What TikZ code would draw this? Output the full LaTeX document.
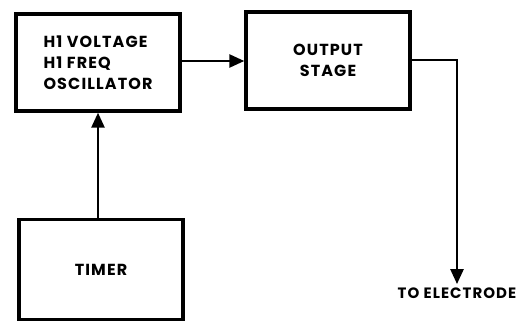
\documentclass[tikz,border=0pt]{standalone}
\usepackage{fontspec}
\setmainfont{Poppins}[LetterSpace=7]
\usetikzlibrary{arrows.meta,positioning}
\tikzset{
    block/.style={
        draw,
        line width=3.4pt,
        minimum width=164pt,
        minimum height=97pt,
        inner sep=0pt,
        font=\fontsize{16}{21}\selectfont\bfseries
    },
    signal/.style={
        line width=2.6pt,
        -{Triangle[length=15pt,width=13pt]}
    }
}

\begin{document}
\begin{tikzpicture}[x=1pt,y=1pt]
                \useasboundingbox (0,0) rectangle (532,322);
                \node[block, align=left] (osc) at (98,259.5)
                    {H1 VOLTAGE\\H1 FREQ\\OSCILLATOR};
                \node[block, align=center] (out) at (328,261.5)
                    {OUTPUT\\STAGE};
                \node[block, minimum height=100pt] (timer) at (101,52.5) {TIMER};
                \node[font=\fontsize{15}{18}\selectfont\bfseries] (electrode) at (457,29) {TO ELECTRODE};
                \coordinate (bend) at (457,262);
                \draw[signal] (osc.east |- 0,261) -- (out.west |- 0,261);
                \draw[signal] (timer.north -| 98,0) -- (osc.south -| 98,0);
                \draw[signal] (out.east |- bend) -- (bend) -- (electrode.north);
            \end{tikzpicture}
\end{document}
